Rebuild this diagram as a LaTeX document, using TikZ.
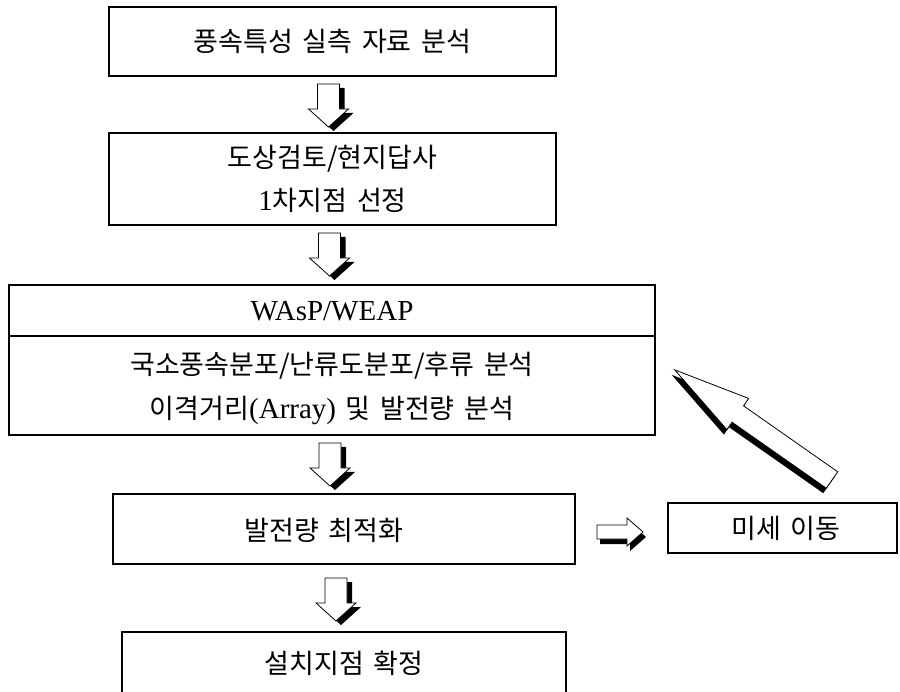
\documentclass[tikz,border=0pt]{standalone}
\usepackage{fontspec}
\setmainfont{Liberation Serif}
\newfontfamily\kr[WordSpace=1.6]{Noto Sans CJK KR}
\usetikzlibrary{calc}
\newcommand{\latn}[1]{{\rmfamily\fontsize{29}{44}\selectfont #1}}
\begin{document}
\begin{tikzpicture}[x=1pt,y=-1pt,
  box/.style={draw, line width=2pt, fill=white, inner sep=0pt, align=center,
    font=\fontsize{27}{43}\selectfont},
  txt/.style={inner sep=0pt, align=center, font=\fontsize{27}{44}\selectfont},
  lat/.style={font=\rmfamily\fontsize{29}{34}\selectfont},
  outl/.style={draw=black, line width=0.8pt, fill=white},
  shad/.style={fill=black},
  pics/darrow/.style={code={
    \fill[shad, shift={(5,4)}] (-11,0) -- (11,0) -- (11,25) -- (20,25) -- (0,43) -- (-20,25) -- (-11,25) -- cycle;
    \path[outl] (-11,0) -- (11,0) -- (11,25) -- (20,25) -- (0,43) -- (-20,25) -- (-11,25) -- cycle;
  }},
  pics/rarrow/.style={code={
    \fill[shad, shift={(3,5)}] (0,-7) -- (30,-7) -- (30,-14) -- (46,0) -- (30,14) -- (30,7) -- (0,7) -- cycle;
    \path[outl] (0,-7) -- (30,-7) -- (30,-14) -- (46,0) -- (30,14) -- (30,7) -- (0,7) -- cycle;
  }}
]
\useasboundingbox (0,0) rectangle (900,692);
\clip (0,0) rectangle (900,692);
\fill[white] (0,0) rectangle (900,692);

% boxes
\node[box, minimum width=447pt, minimum height=69pt] (b1) at (332.5,41.5) {\kr 풍속특성 실측 자료 분석};
\node[box, minimum width=447pt, minimum height=92pt] (b2) at (332.5,179) {\kr 도상검토/현지답사\\\latn{1}\kr 차지점 선정};
\node[box, minimum width=646pt, minimum height=150pt] (b3) at (332,360) {};
\draw[line width=2pt] (b3.west |- 0,336) -- (b3.east |- 0,336);
\node[txt, lat] (h3) at (332,311) {WAsP/WEAP};
\node[txt] (t3) at (332,388) {\kr 국소풍속분포/난류도분포/후류 분석\\\kr 이격거리\latn{(Array)} 및 발전량 분석};
\node[box, minimum width=462pt, minimum height=70pt] (b4) at (344,529) {};
\node[txt] (t4) at (324,530) {\kr 발전량 최적화};
\node[box, minimum width=229pt, minimum height=50pt] (b6) at (782.5,528) {};
\node[txt] (t6) at (786,528) {\kr 미세 이동};
\node[box, minimum width=444pt, minimum height=120pt] (b5) at (344,692) {};
\node[txt] (t5) at (344,663) {\kr 설치지점 확정};

% down arrows
\pic at ($(b1.south)+(-4,7)$) {darrow};
\pic at ($(b2.south)+(-3,7)$) {darrow};
\pic at ($(b3.south)+(-2,7)$) {darrow};
\pic at ($(b4.south)+(-8,13)$) {darrow};

% right arrow
\coordinate (r1) at (597,532);
\pic at (r1) {rarrow};

% diagonal feedback arrow
\coordinate (d0) at (832,480);
\fill[shad, shift={($(d0)+(-3,5)$)}, rotate=145] (0,-10) -- (115,-10) -- (115,-19) -- (192,0) -- (115,19) -- (115,10) -- (0,10) -- cycle;
\path[outl, shift={(d0)}, rotate=145] (0,-10) -- (115,-10) -- (115,-19) -- (192,0) -- (115,19) -- (115,10) -- (0,10) -- cycle;
\end{tikzpicture}
\end{document}
